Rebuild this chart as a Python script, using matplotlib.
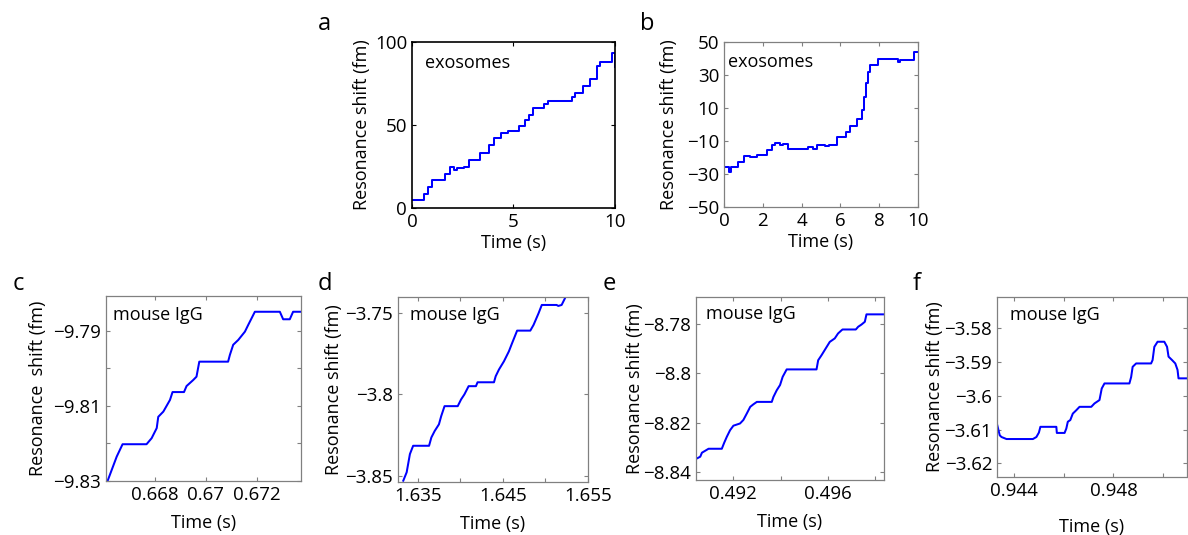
import matplotlib
matplotlib.use('Agg')
import matplotlib.pyplot as plt

plt.rcParams['font.family'] = ['Open Sans', 'DejaVu Sans']
plt.rcParams['font.size'] = 13

# ---------------- data ----------------
# a: exosomes, step levels (steps-post)
a_t = [0.0, 0.57, 0.77, 0.98, 1.64, 1.89, 2.05, 2.2, 2.54, 2.79, 3.36, 3.77,
       4.02, 4.39, 4.75, 5.25, 5.57, 5.74, 5.98, 6.48, 6.72, 7.87, 8.03, 8.44,
       8.77, 9.10, 9.26, 9.84, 9.98]
a_y = [5.1, 8.5, 12.5, 16.6, 20.2, 24.5, 23.0, 24.0, 24.6, 28.7, 33.1, 37.8,
       42.4, 45.3, 46.3, 49.3, 52.9, 56.0, 60.0, 62.6, 64.6, 67.0, 69.1, 73.5,
       77.6, 85.3, 87.7, 93.3, 85.0]

# b: exosomes, step levels (steps-post)
b_t = [0.0, 0.28, 0.34, 0.74, 1.02, 1.34, 1.68, 2.24, 2.46, 2.65, 2.9, 3.05,
       3.32, 4.35, 4.6, 4.78, 5.2, 5.4, 5.85, 6.28, 6.5, 6.84, 7.10, 7.22,
       7.32, 7.42, 7.52, 7.96, 8.99, 9.07, 9.80, 10.0]
b_y = [-25.6, -28.6, -26.0, -22.5, -19.1, -19.9, -18.5, -15.5, -12.4, -11.2,
       -12.6, -11.6, -14.8, -13.4, -14.6, -12.4, -13.2, -12.4, -7.8, -4.3,
       -0.9, 3.1, 8.8, 16.9, 25.0, 32.0, 36.3, 39.7, 37.7, 39.1, 44.1, 44.1]

# c: mouse IgG
c_t = [0.66613, 0.66650, 0.66673, 0.66767, 0.66787, 0.66807, 0.66813, 0.66833,
       0.66859, 0.66869, 0.66914, 0.66924, 0.66950, 0.66963, 0.66974, 0.67087,
       0.67094, 0.67107, 0.67127, 0.67153, 0.67166, 0.67192, 0.67290, 0.67303,
       0.67329, 0.67342, 0.67373]
c_y = [-9.8302, -9.8235, -9.8202, -9.8202, -9.8186, -9.8159, -9.8129, -9.8115,
       -9.8084, -9.8063, -9.8063, -9.8047, -9.8031, -9.8022, -9.7982, -9.7982,
       -9.7964, -9.7937, -9.7924, -9.7902, -9.7884, -9.7849, -9.7849, -9.7869,
       -9.7869, -9.7849, -9.7849]

# d: mouse IgG
d_t = [1.63329, 1.63369, 1.63407, 1.63445, 1.63632, 1.63659, 1.63698, 1.63748,
       1.63775, 1.63814, 1.63969, 1.64008, 1.64047, 1.64097, 1.64183, 1.64202,
       1.64395, 1.64415, 1.64453, 1.64512, 1.64570, 1.64608, 1.64667, 1.64822,
       1.64860, 1.64919, 1.64957, 1.65131, 1.65151, 1.65190, 1.65229, 1.65248]
d_y = [-3.8531, -3.8479, -3.8367, -3.8316, -3.8316, -3.8265, -3.8225, -3.8184,
       -3.8133, -3.8072, -3.8072, -3.8031, -3.8000, -3.7949, -3.7949, -3.7925,
       -3.7925, -3.7888, -3.7847, -3.7796, -3.7735, -3.7684, -3.7607, -3.7607,
       -3.7572, -3.7500, -3.7449, -3.7449, -3.7455, -3.7449, -3.7408, -3.7378]

# e: mouse IgG
e_t = [0.49047, 0.49061, 0.49068, 0.49082, 0.49096, 0.49152, 0.49162, 0.49173,
       0.49187, 0.49201, 0.49229, 0.49243, 0.49258, 0.49272, 0.49285, 0.49300,
       0.49363, 0.49370, 0.49384, 0.49398, 0.49409, 0.49426, 0.49552, 0.49559,
       0.49573, 0.49595, 0.49608, 0.49629, 0.49643, 0.49658, 0.49662, 0.49718,
       0.49728, 0.49742, 0.49756, 0.49763, 0.49836]
e_y = [-8.8344, -8.8337, -8.8321, -8.8313, -8.8305, -8.8305, -8.8281, -8.8257,
       -8.8230, -8.8212, -8.8203, -8.8189, -8.8162, -8.8136, -8.8126, -8.8116,
       -8.8116, -8.8096, -8.8069, -8.8048, -8.8015, -8.7985, -8.7985, -8.7948,
       -8.7928, -8.7894, -8.7874, -8.7860, -8.7840, -8.7827, -8.7824, -8.7824,
       -8.7813, -8.7804, -8.7793, -8.7763, -8.7763]

# f: mouse IgG
f_t = [0.94333, 0.94344, 0.94351, 0.94371, 0.94477, 0.94491, 0.94501, 0.94507,
       0.94571, 0.94573, 0.94604, 0.94611, 0.94617, 0.94627, 0.94637, 0.94651,
       0.94664, 0.94711, 0.94724, 0.94744, 0.94753, 0.94764, 0.94864, 0.94871,
       0.94877, 0.94891, 0.94951, 0.94957, 0.94964, 0.94977, 0.95004, 0.95015,
       0.95021, 0.95035, 0.95048, 0.95057, 0.95061, 0.95096]
f_y = [-3.6084, -3.6117, -3.6122, -3.6128, -3.6128, -3.6122, -3.6109, -3.6092,
       -3.6092, -3.6110, -3.6110, -3.6097, -3.6077, -3.6072, -3.6053, -3.6043,
       -3.6033, -3.6033, -3.6023, -3.6013, -3.5979, -3.5964, -3.5964, -3.5945,
       -3.5915, -3.5905, -3.5905, -3.5895, -3.5856, -3.5841, -3.5841, -3.5856,
       -3.5885, -3.5895, -3.5905, -3.5924, -3.5949, -3.5949]

# tick values / labels
a_xticks, a_xlabels = [0, 5, 10], ['0', '5', '10']
a_yticks, a_ylabels = [0, 50, 100], ['0', '50', '100']
b_xticks, b_xlabels = [0, 2, 4, 6, 8, 10], ['0', '2', '4', '6', '8', '10']
b_yticks = [-50, -30, -10, 10, 30, 50]
b_ylabels = ['\u221250', '\u221230', '\u221210', '10', '30', '50']
c_xticks, c_xlabels = [0.668, 0.670, 0.672], ['0.668', '0.67', '0.672']
c_yticks = [-9.83, -9.82, -9.81, -9.80, -9.79]
c_ylabels = ['\u22129.83', '', '\u22129.81', '', '\u22129.79']
d_xticks = [1.635, 1.640, 1.645, 1.650, 1.655]
d_xlabels = ['1.635', '', '1.645', '', '1.655']
d_yticks = [-3.85, -3.80, -3.75]
d_ylabels = ['\u22123.85', '\u22123.8', '\u22123.75']
e_xticks = [0.492, 0.494, 0.496, 0.498]
e_xlabels = ['0.492', '', '0.496', '']
e_yticks = [-8.84, -8.82, -8.80, -8.78]
e_ylabels = ['\u22128.84', '\u22128.82', '\u22128.8', '\u22128.78']
f_xticks = [0.944, 0.946, 0.948, 0.950]
f_xlabels = ['0.944', '', '0.948', '']
f_yticks = [-3.62, -3.61, -3.60, -3.59, -3.58]
f_ylabels = ['\u22123.62', '\u22123.61', '\u22123.6', '\u22123.59', '\u22123.58']

W, H = 1188, 535
fig = plt.figure(figsize=(W / 100, H / 100), dpi=100)
BLUE = '#0000ff'
LW = 1.45


def px_axes(left, right, top, bottom):
    return fig.add_axes([left / W, 1 - bottom / H, (right - left) / W, (bottom - top) / H])


def style(ax, xlim, ylim, xt, xl, yt, yl, ylabel, ylab_px, left, right, frame='#808080'):
    ax.set_xlim(xlim)
    ax.set_ylim(ylim)
    ax.set_xticks(xt)
    ax.set_xticklabels(xl)
    ax.set_yticks(yt)
    ax.set_yticklabels(yl)
    ax.tick_params(direction='in', top=True, right=True, length=3, width=0.8,
                   color=frame, labelsize=13.5, pad=3.5)
    for s in ax.spines.values():
        s.set_color(frame)
        s.set_linewidth(0.9 if frame != 'black' else 1.2)
    ax.set_ylabel(ylabel, fontsize=13)
    ax.yaxis.set_label_coords((ylab_px - left) / (right - left), 0.5)
    ax.set_xlabel('Time (s)', labelpad=2, fontsize=13)


def ftext(x, y, s, size=13):
    fig.text(x / W, 1 - y / H, s, fontsize=size, va='baseline', ha='left')


# a
ax = px_axes(412, 615, 42, 208)
ax.plot(a_t, a_y, color=BLUE, lw=LW, drawstyle='steps-post')
style(ax, (0, 10), (0, 100), a_xticks, a_xlabels, a_yticks, a_ylabels,
      'Resonance shift (fm)', 371, 412, 615, frame='black')
ftext(425, 68, 'exosomes')
ftext(318, 30, 'a', 17)

# b
ax = px_axes(724, 918, 42, 207)
ax.plot(b_t, b_y, color=BLUE, lw=LW, drawstyle='steps-post')
style(ax, (0, 10), (-50, 50), b_xticks, b_xlabels, b_yticks, b_ylabels,
      'Resonance shift (fm)', 678, 724, 918)
ftext(728, 67, 'exosomes')
ftext(640, 30, 'b', 17)

# c
ax = px_axes(106, 301, 296, 481)
ax.plot(c_t, c_y, color=BLUE, lw=LW)
style(ax, (0.66608, 0.67373), (-9.83, -9.7807), c_xticks, c_xlabels, c_yticks, c_ylabels,
      'Resonance  shift (fm)', 47, 106, 301)
ax.xaxis.labelpad = 7
ftext(113, 320, 'mouse IgG')
ftext(13, 290, 'c', 17)

# d
ax = px_axes(398, 588, 297, 482)
ax.plot(d_t, d_y, color=BLUE, lw=LW)
style(ax, (1.63267, 1.6550), (-3.8539, -3.7400), d_xticks, d_xlabels, d_yticks, d_ylabels,
      'Resonance shift (fm)', 343, 398, 588)
ax.xaxis.labelpad = 7
ftext(410, 320, 'mouse IgG')
ftext(318, 290, 'd', 17)

# e
ax = px_axes(696, 884, 297, 480)
ax.plot(e_t, e_y, color=BLUE, lw=LW)
style(ax, (0.49043, 0.49837), (-8.8431, -8.7693), e_xticks, e_xlabels, e_yticks, e_ylabels,
      'Resonance shift (fm)', 644, 696, 884)
ax.xaxis.labelpad = 7
ftext(706, 319, 'mouse IgG')
ftext(603, 290, 'e', 17)

# f
ax = px_axes(997, 1186.5, 297, 477)
ax.plot(f_t, f_y, color=BLUE, lw=LW)
style(ax, (0.94333, 0.95093), (-3.6240, -3.5709), f_xticks, f_xlabels, f_yticks, f_ylabels,
      'Resonance shift (fm)', 944, 997, 1186.5)
ax.xaxis.labelpad = 13
ftext(1010, 320, 'mouse IgG')
ftext(913, 290, 'f', 17)

fig.savefig('out.png', dpi=100)
